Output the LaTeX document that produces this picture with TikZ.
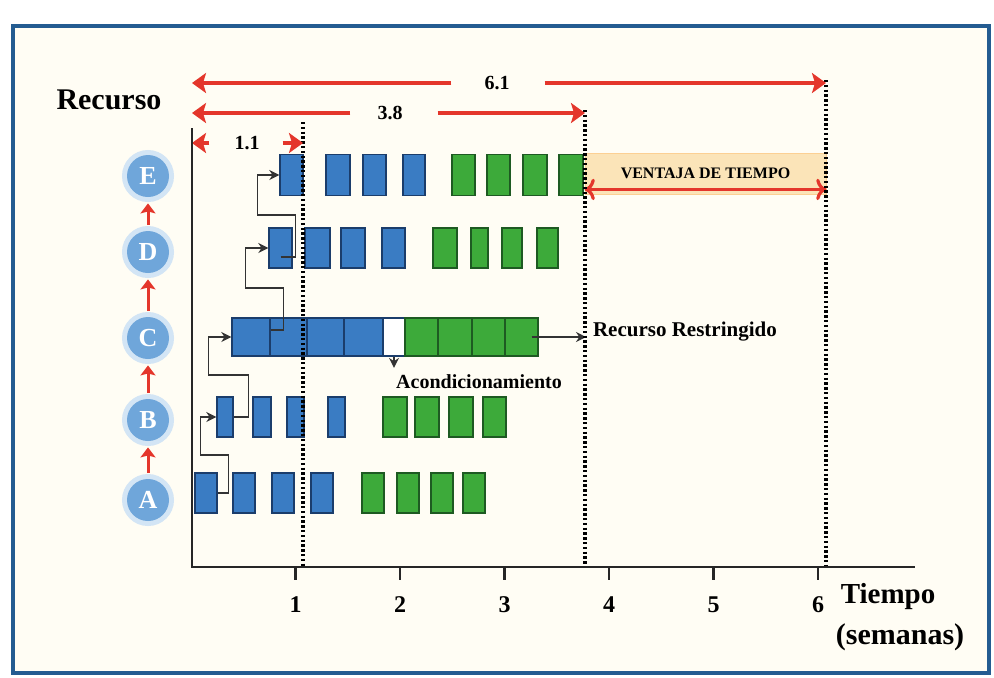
\documentclass[tikz,border=0pt]{standalone}
\usepackage{fontspec}
\setmainfont{Liberation Serif}
\usepackage{tikz}
\usetikzlibrary{arrows.meta}
\definecolor{azulb}{HTML}{3A7CC3}
\definecolor{bordeazul}{HTML}{1B3D6B}
\definecolor{verdeb}{HTML}{3DAA3A}
\definecolor{bordeverde}{HTML}{1E5A22}
\definecolor{rojo}{HTML}{E4362B}
\definecolor{marco}{HTML}{245C91}
\definecolor{crema}{HTML}{FFFDF4}
\definecolor{circ}{HTML}{6FA6DA}
\definecolor{halo}{HTML}{D3E5F5}
\definecolor{ventajaf}{HTML}{FBE4B8}
\newcommand{\letra}[1]{\fontsize{#1}{#1}\selectfont\bfseries}

\begin{document}
\begin{tikzpicture}[x=0.5pt, y=-0.5pt,
    bloque/.style={inner sep=0pt, minimum height=20pt, line width=0.7pt},
    azul/.style={bloque, draw=bordeazul, fill=azulb},
    verde/.style={bloque, draw=bordeverde, fill=verdeb},
    circulo/.style={circle, fill=circ, text=white, minimum size=21pt, inner sep=0pt,
      font=\letra{13}, preaction={draw=halo, line width=5pt}},
    conector/.style={-{Stealth[length=5pt,width=5pt]}, line width=0.7pt, black!80},
    roja/.style={draw=rojo, line width=1.6pt, -{Stealth[length=7pt,width=10pt,inset=1.5pt]}},
    rojac/.style={draw=rojo, line width=1.5pt, -{Stealth[length=5pt,width=7.5pt,inset=1pt]},
      shorten <=3pt, shorten >=3pt},
    punteado/.style={line width=1.6pt, black, dash pattern=on 1.2pt off 1.2pt},
    eje/.style={line width=1.3pt, black!85}]
  \useasboundingbox (0,0) rectangle (994,677);
  \fill[crema] (13,26) rectangle (989,673);
  \draw[marco, line width=1.8pt] (13,26) rectangle (989,673);

  \coordinate (o) at (192,567);
  \coordinate (ytop) at (192,128);
  \coordinate (xfin) at (915,567);
  \coordinate (d11) at (303,122);
  \coordinate (d38) at (585,110);
  \coordinate (d61) at (826,80);

  \node[font=\letra{15}] (recurso) at (109,100) {Recurso};
  \node[circulo] (rA) at (148,500) {A};
  \node[circulo] (rB) at (148,420) {B};
  \node[circulo] (rC) at (148,338) {C};
  \node[circulo] (rD) at (148,252) {D};
  \node[circulo] (rE) at (148,176) {E};
  \foreach \a/\b in {rA/rB, rB/rC, rC/rD, rD/rE}
    \draw[rojac] (\a.north) -- (\b.south);

  \foreach \a/\b [count=\i] in {195/217,233/255,272/294,311/333}
    \node[azul, minimum width={(\b-\a)*0.5pt}] (A\i) at ({(\a+\b)/2},493) {};
  \foreach \a/\b [count=\i] in {362/384,397/419,431/453,463/485}
    \node[verde, minimum width={(\b-\a)*0.5pt}] (Av\i) at ({(\a+\b)/2},493) {};
  \foreach \a/\b [count=\i] in {217/233,253/271,287/304,328/345}
    \node[azul, minimum width={(\b-\a)*0.5pt}] (B\i) at ({(\a+\b)/2},417) {};
  \foreach \a/\b [count=\i] in {383/407,415/439,449/473,483/506}
    \node[verde, minimum width={(\b-\a)*0.5pt}] (Bv\i) at ({(\a+\b)/2},417) {};
  \foreach \a/\b [count=\i] in {232/270,270/307,307/344,344/383}
    \node[azul, minimum width={(\b-\a)*0.5pt}, minimum height=19pt] (C\i) at ({(\a+\b)/2},337) {};
  \node[bloque, draw=bordeazul, fill=white, minimum width=11pt, minimum height=19pt] (Cb) at (394,337) {};
  \foreach \a/\b [count=\i] in {405/438,438/472,472/505,505/538}
    \node[verde, minimum width={(\b-\a)*0.5pt}, minimum height=19pt] (Cv\i) at ({(\a+\b)/2},337) {};
  \foreach \a/\b [count=\i] in {269/292,305/330,341/365,382/405}
    \node[azul, minimum width={(\b-\a)*0.5pt}] (D\i) at ({(\a+\b)/2},248) {};
  \foreach \a/\b [count=\i] in {433/457,471/488,502/522,537/558}
    \node[verde, minimum width={(\b-\a)*0.5pt}] (Dv\i) at ({(\a+\b)/2},248) {};
  \foreach \a/\b [count=\i] in {280/303,326/350,363/386,403/425}
    \node[azul, minimum width={(\b-\a)*0.5pt}, minimum height=20.5pt] (E\i) at ({(\a+\b)/2},175) {};
  \foreach \a/\b [count=\i] in {452/475,487/510,523/547,559/583}
    \node[verde, minimum width={(\b-\a)*0.5pt}, minimum height=20.5pt] (Ev\i) at ({(\a+\b)/2},175) {};

  \draw[conector] (A1.east) -- ++(11,0) |- ++(-28,-38) |- (B1.west);
  \draw[conector] (B1.east) -- ++(15,0) |- ++(-40,-42) |- (C1.west);
  \draw[conector] ([yshift=3.5pt]C1.east) -- ++(13,0) |- ++(-38,-42) |- (D1.west);
  \draw[conector] ([yshift=-4.5pt]D1.center) -- ++(15,0) |- ++(-38,-42) |- (E1.west);

  \node[font=\letra{10.5}, anchor=west] (restr) at (586,332) {Recurso Restringido};
  \draw[conector] ([xshift=5pt]Cv4.center) -- (Cv4.center -| restr.west);
  \node[font=\letra{10}] (acond) at (479,382) {Acondicionamiento};
  \draw[conector] (Cb.south) -- (Cb.south |- acond.north);

  \node[fill=ventajaf, draw=ventajaf!80!orange, line width=0.4pt, minimum width=120.5pt,
    minimum height=20.5pt, inner sep=0pt, font=\letra{8}] (vent) at (705.5,173.5) {VENTAJA DE TIEMPO};
  \draw[roja, <->] ([yshift=2.5pt]vent.south west) -- ([yshift=2.5pt]vent.south east);

  \draw[punteado] (d11) -- (d11 |- o);
  \draw[punteado] (d38) -- (d38 |- o);
  \draw[punteado] (d61) -- (d61 |- o);

  \node[font=\letra{10}] (l61) at (497,83) {6.1};
  \draw[roja] ([xshift=-13pt]l61.west) -- (l61 -| o);
  \draw[roja] ([xshift=14pt]l61.east) -- (l61 -| d61);
  \node[font=\letra{10}] (l38) at (390,113) {3.8};
  \draw[roja] ([xshift=-10pt]l38.west) -- (l38 -| o);
  \draw[roja] ([xshift=14pt]l38.east) -- (l38 -| d38);
  \node[font=\letra{10}] (l11) at (247,143) {1.1};
  \draw[roja] ([xshift=-9pt]l11.west) -- (l11 -| o);
  \draw[roja] ([xshift=8pt]l11.east) -- (l11 -| d11);

  \draw[eje] (ytop) -- (o) -- (xfin);
  \foreach \t in {1,...,6}{
    \draw[eje] ({191+104.5*\t},567) -- ++(0,13);
    \node[font=\letra{12}] (t\t) at ({191+104.5*\t},605) {\t};
  }
  \node[font=\letra{14.5}] (tiempo) at (888,597) {Tiempo};
  \node[font=\letra{15}] (semanas) at (900,637) {(semanas)};
\end{tikzpicture}
\end{document}
